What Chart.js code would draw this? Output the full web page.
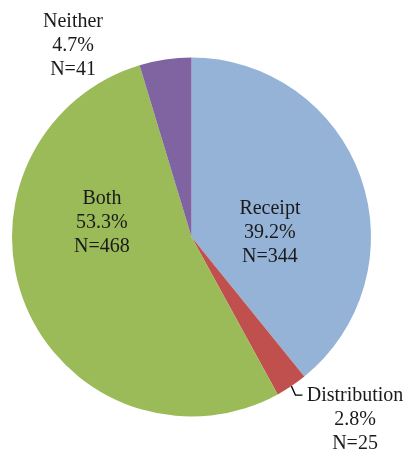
<!DOCTYPE html>
<html>
<head>
<meta charset="utf-8">
<script src="https://cdn.jsdelivr.net/npm/chart.js@4"></script>
<style>
  html, body { margin: 0; padding: 0; background: #fff; }
  #wrap { width: 411px; height: 451px; }
</style>
</head>
<body>
<div id="wrap"><canvas id="myChart" width="411" height="451"></canvas></div>
<script>
// категории и значения
const categories = ['Receipt', 'Distribution', 'Both', 'Neither']
const counts = [344, 25, 468, 41]
const percents = ['39.2%', '2.8%', '53.3%', '4.7%']
const colors = ['#95B3D7', '#C0504D', '#9BBB59', '#8064A2']

// где стоит подпись (центр средней строки), в долях радиуса от центра
const labelPos = [[0.437, -0.022], [0.911, 1.02], [-0.499, -0.078], [-0.66, -1.064]]

const labelsPlugin = {
  id: 'sliceLabels',
  afterDatasetsDraw(chart) {
    const ctx = chart.ctx
    const arcs = chart.getDatasetMeta(0).data
    ctx.save()
    ctx.font = '20px "Liberation Serif", "Times New Roman", serif'
    ctx.fillStyle = '#1a1a1a'
    ctx.textAlign = 'center'
    ctx.textBaseline = 'middle'
    arcs.forEach((arc, i) => {
      const r = arc.outerRadius
      const x = arc.x + labelPos[i][0] * r
      const y = arc.y + labelPos[i][1] * r
      const lines = [categories[i], percents[i], 'N=' + counts[i]]
      lines.forEach((t, j) => ctx.fillText(t, x, y + (j - 1) * 24))
    })
    // выноска для Distribution
    const d = arcs[1]
    const mid = (d.startAngle + d.endAngle) / 2
    const r = d.outerRadius
    const sx = d.x + Math.cos(mid) * r
    const sy = d.y + Math.sin(mid) * r
    ctx.strokeStyle = '#000'
    ctx.lineWidth = 1.3
    ctx.beginPath()
    ctx.moveTo(sx, sy)
    ctx.lineTo(sx + 4, sy + 9)
    ctx.lineTo(sx + 11, sy + 9)
    ctx.stroke()
    ctx.restore()
  }
}

let ctx = document.getElementById('myChart')
let myChart = new Chart(ctx, {
  type: 'pie',
  data: {
    labels: categories,
    datasets: [{
      data: counts,
      backgroundColor: colors,
      borderWidth: 0
    }]
  },
  options: {
    responsive: false,
    animation: false,
    layout: { padding: { left: 12, right: 40, top: 57, bottom: 34 } },
    plugins: {
      legend: { display: false },
      tooltip: { enabled: false }
    }
  },
  plugins: [labelsPlugin]
})
</script>
</body>
</html>
